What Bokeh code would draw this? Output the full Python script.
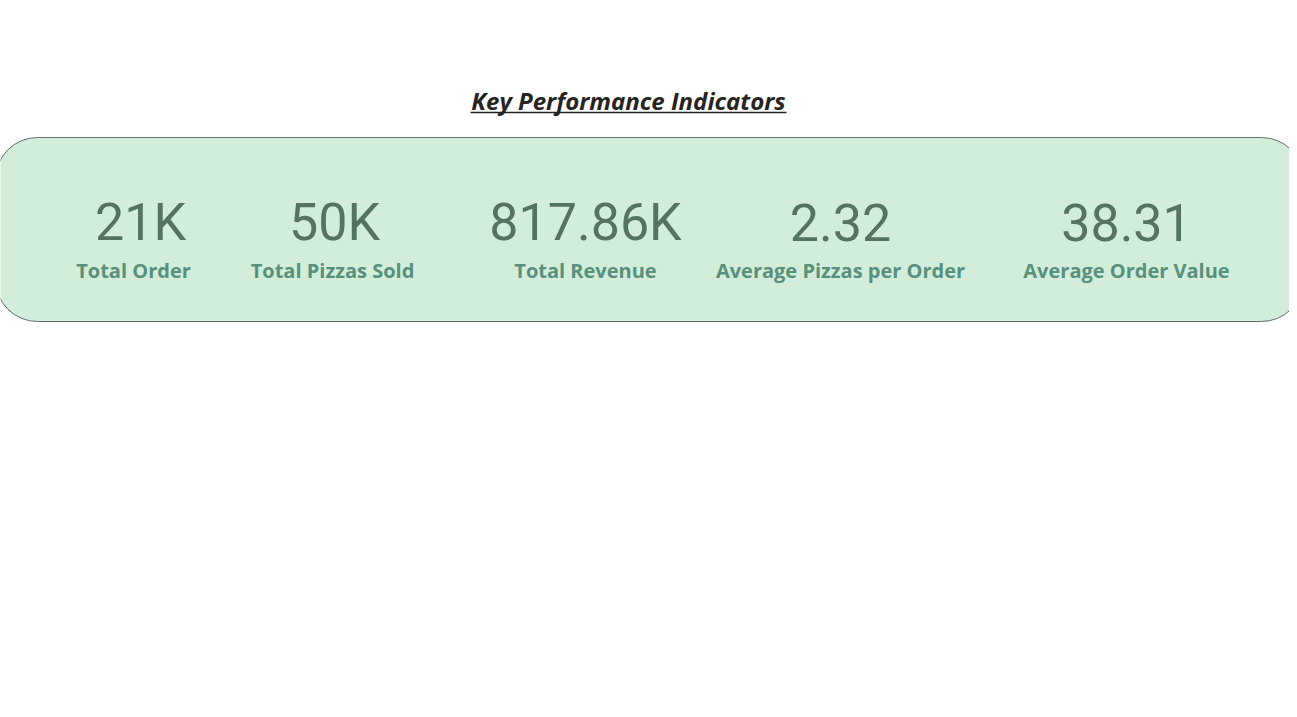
from bokeh.plotting import figure
from bokeh.models import Range1d, BoxAnnotation, ColumnDataSource
from bokeh.core.properties import value
from bokeh.embed import file_html
from bokeh.resources import INLINE

values = ["21K", "50K", "817.86K", "2.32", "38.31"]
labels = ["Total Order", "Total Pizzas Sold", "Total Revenue", "Average Pizzas per Order", "Average Order Value"]
value_x = [140, 334, 585, 840, 1126]
label_x = [133, 332, 585, 840, 1126]

p = figure(width=1289, height=709, output_backend="svg", toolbar_location=None,
           x_range=Range1d(0, 1289), y_range=Range1d(709, 0), min_border=0)
p.axis.visible = False
p.grid.visible = False
p.outline_line_color = None
p.background_fill_color = "white"

p.add_layout(BoxAnnotation(left=-5, right=1303, top=137, bottom=321, level="underlay",
                           fill_color="#D2EDD9", fill_alpha=1, line_color="#5F6F66",
                           line_alpha=1, line_width=1, border_radius=42))

p.text(x=[628], y=[100], text=["Key Performance Indicators"], text_align="center",
       text_baseline="middle", text_font=value("Open Sans"), text_font_style="bold italic",
       text_font_size="24px", text_color="#252423")
p.segment(x0=[470], y0=[112], x1=[786], y1=[112], line_color="#252423", line_width=1.5)

src = ColumnDataSource(dict(vx=value_x, lx=label_x, v=values, l=labels,
                            vy=[222]*5, ly=[270]*5))
p.text(x="vx", y="vy", text="v", source=src, text_align="center", text_baseline="middle",
       text_font=value("Roboto"), text_font_size="52px", text_color="#53745F")
p.text(x="lx", y="ly", text="l", source=src, text_align="center", text_baseline="middle",
       text_font=value("Open Sans"), text_font_style="bold", text_font_size="20px",
       text_color="#58907E")

open("out.html", "w").write(file_html(p, INLINE))
